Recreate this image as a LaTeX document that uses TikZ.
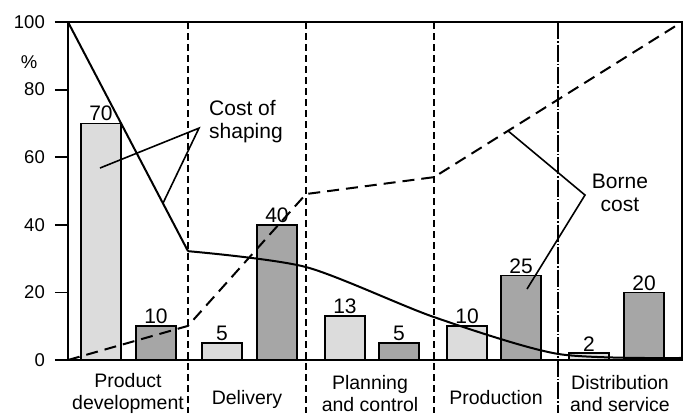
\documentclass[tikz,border=0pt]{standalone}
\usepackage{fontspec}
\setmainfont{Liberation Sans}
\definecolor{barlight}{RGB}{220,220,220}
\definecolor{bardark}{RGB}{166,166,166}
\tikzset{frame/.style={black,line width=1.8pt}}
\tikzset{divider/.style={black,line width=1.5pt,dash pattern=on 7pt off 4pt}}
\tikzset{lastdivider/.style={black,line width=1.5pt,dash pattern=on 17pt off 2pt on 1.5pt off 2pt}}
\tikzset{bar/.style={draw=black,line width=1.8pt}}
\tikzset{shapecurve/.style={black,line width=2pt,line join=round}}
\tikzset{bornecurve/.style={black,line width=2pt,line join=round,dash pattern=on 12pt off 7pt}}
\tikzset{pointer/.style={black,line width=1.6pt,line join=miter}}
\tikzset{txt/.style={font=\fontsize{19.5}{22}\selectfont,inner sep=1pt}}
\tikzset{note/.style={font=\fontsize{21}{23}\selectfont,inner sep=1pt}}
\tikzset{ticklabel/.style={font=\fontsize{18.5}{22}\selectfont,inner sep=1pt}}

\begin{document}
\begin{tikzpicture}[x=1pt,y=3.38pt]
  \useasboundingbox (-68,-16.27) rectangle (618,106.51);

  % Bars
  \foreach \c/\v/\f [count=\i] in {33/70/barlight,88/10/bardark,154/5/barlight,209/40/bardark,277/13/barlight,331/5/bardark,399/10/barlight,453/25/bardark,521/2/barlight,576/20/bardark}
  {
    \draw[bar,fill=\f] (\c-20,0) rectangle (\c+20,\v);
    \node[note,above=1pt] (val\i) at (\c,\v) {\v};
  }

  % Dividers
  \foreach \s in {120,238,366}
  {
    \draw[divider] (\s,100) -- (\s,-15.6);
  }
  \draw[lastdivider] (490,100) -- (490,-15.6);

  % Axes
  \draw[frame] (-13,100) -- (614,100) -- (614,0) -- (-13,0);
  \draw[frame] (0,0) -- (0,100);
  \foreach \s in {0,20,...,100}
  {
    \draw[frame] (-13,\s) -- (0,\s);
    \node[ticklabel,anchor=east] (tick\s) at (-22,\s) {\s};
  }
  \node[ticklabel] (unit) at (-39,88.2) {\%};

  % Curves
  \coordinate (s0) at (0,100);
  \coordinate (s1) at (120,32.2);
  \coordinate (s2) at (238,27.5);
  \coordinate (s3) at (366,12.7);
  \coordinate (s4) at (490,1.8);
  \coordinate (s5) at (614,0.6);
  \draw[shapecurve] (s0) -- (s1) plot[smooth,tension=0.45] coordinates {(s1) (s2) (s3) (s4) (s5)};

  \coordinate (b0) at (0,0);
  \coordinate (b1) at (120,10.1);
  \coordinate (b2) at (238,49.1);
  \coordinate (b3) at (366,54.1);
  \coordinate (b4) at (614,100);
  \draw[bornecurve] (b0) -- (b1) -- (b2) -- (b3) -- (b4);

  % Pointers
  \node[note,anchor=west,align=left] (shaping) at (140,70.6) {Cost of\\shaping};
  \coordinate (sv) at (131,68.6);
  \coordinate (sa) at (32,56.8);
  \coordinate (sb) at (95,46.4);
  \draw[pointer] (sa) -- (sv) -- (sb);

  \node[note,align=center] (borne) at (552,49.4) {Borne\\cost};
  \coordinate (bv) at (517,48.8);
  \coordinate (ba) at (440,67.8);
  \coordinate (bb) at (459,21.0);
  \draw[pointer] (ba) -- (bv) -- (bb);

  % Stages
  \node[txt,align=center] (stage1) at (60,-10.0) {Product\\development};
  \node[txt] (stage2) at (179,-11.8) {Delivery};
  \node[txt,align=center] (stage3) at (302,-10.0) {Planning\\and control};
  \node[txt] (stage4) at (428,-11.2) {Production};
  \node[txt,align=center] (stage5) at (552,-10.0) {Distribution\\and service};
\end{tikzpicture}
\end{document}
